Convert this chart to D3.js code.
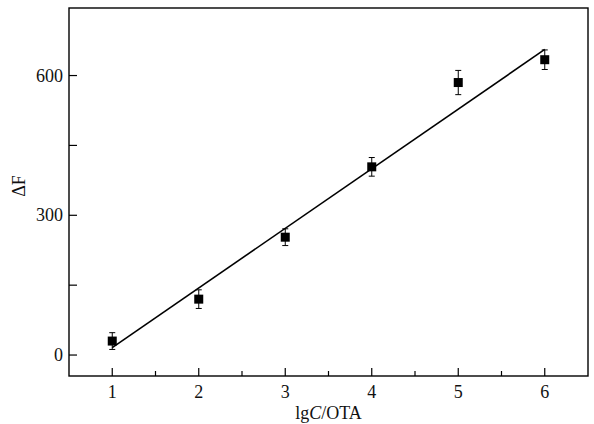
<!DOCTYPE html>
<html>
<head>
<meta charset="utf-8">
<script src="https://cdn.jsdelivr.net/npm/d3@7"></script>
<style>
  body { margin: 0; background: #fff; }
  text { font-family: "Liberation Serif", "Times New Roman", serif; fill: #111; }
</style>
</head>
<body>
<div id="chart"></div>
<script>
// Data
var concentrations = [1, 2, 3, 4, 5, 6];
var deltaF         = [30, 120, 253, 404, 585, 634];
var errors         = [18, 20, 18, 20, 26, 21];
// Linear fit
var fitSlope     = 128;
var fitIntercept = -112;
// Ticks
var xTicks      = [1, 2, 3, 4, 5, 6];
var xMinorTicks = [1.5, 2.5, 3.5, 4.5, 5.5];
var yTicks      = [0, 300, 600];
var yMinorTicks = [150, 450];

var width = 594, height = 424;
var margin = { top: 8, right: 6, bottom: 48, left: 69 };
var w = width - margin.left - margin.right;
var h = height - margin.top - margin.bottom;

var svg = d3.select("#chart").append("svg")
    .attr("width", width).attr("height", height);
var g = svg.append("g").attr("transform", "translate(" + margin.left + "," + margin.top + ")");

// Scales
var x = d3.scaleLinear().domain([0.5, 6.5]).range([0, w]);
var y = d3.scaleLinear().domain([-45, 745]).range([h, 0]);

// Frame
g.append("rect")
  .attr("width", w).attr("height", h)
  .attr("fill", "none").attr("stroke", "#000").attr("stroke-width", 1.4);

// x ticks (inward)
g.append("g").selectAll("line.major").data(xTicks).enter().append("line")
  .attr("x1", function(d){ return x(d); }).attr("x2", function(d){ return x(d); })
  .attr("y1", h).attr("y2", h - 8)
  .attr("stroke", "#000").attr("stroke-width", 1.2);
g.append("g").selectAll("line").data(xMinorTicks).enter().append("line")
  .attr("x1", function(d){ return x(d); }).attr("x2", function(d){ return x(d); })
  .attr("y1", h).attr("y2", h - 5)
  .attr("stroke", "#000").attr("stroke-width", 1.2);
g.append("g").selectAll("text").data(xTicks).enter().append("text")
  .attr("x", function(d){ return x(d); })
  .attr("y", h + 22)
  .attr("text-anchor", "middle")
  .attr("font-size", 18)
  .text(function(d){ return d; });

// y ticks (inward)
g.append("g").selectAll("line").data(yTicks).enter().append("line")
  .attr("x1", 0).attr("x2", 8)
  .attr("y1", function(d){ return y(d); }).attr("y2", function(d){ return y(d); })
  .attr("stroke", "#000").attr("stroke-width", 1.2);
g.append("g").selectAll("line").data(yMinorTicks).enter().append("line")
  .attr("x1", 0).attr("x2", 8)
  .attr("y1", function(d){ return y(d); }).attr("y2", function(d){ return y(d); })
  .attr("stroke", "#000").attr("stroke-width", 1.2);
g.append("g").selectAll("text").data(yTicks).enter().append("text")
  .attr("x", -6)
  .attr("y", function(d){ return y(d) + 6; })
  .attr("text-anchor", "end")
  .attr("font-size", 18)
  .text(function(d){ return d; });

// Fit line
var fit = [concentrations[0], concentrations[concentrations.length - 1]];
g.append("line")
  .attr("x1", x(fit[0])).attr("y1", y(fitSlope * fit[0] + fitIntercept))
  .attr("x2", x(fit[1])).attr("y2", y(fitSlope * fit[1] + fitIntercept))
  .attr("stroke", "#000").attr("stroke-width", 1.6);

// Error bars
var points = concentrations.map(function(c, i){ return { c: c, v: deltaF[i], e: errors[i] }; });
var eb = g.append("g").selectAll("g").data(points).enter().append("g")
  .attr("stroke", "#000").attr("stroke-width", 1);
eb.append("line")
  .attr("x1", function(d){ return x(d.c); }).attr("x2", function(d){ return x(d.c); })
  .attr("y1", function(d){ return y(d.v + d.e); }).attr("y2", function(d){ return y(d.v - d.e); });
eb.append("line")
  .attr("x1", function(d){ return x(d.c) - 3; }).attr("x2", function(d){ return x(d.c) + 3; })
  .attr("y1", function(d){ return y(d.v + d.e); }).attr("y2", function(d){ return y(d.v + d.e); });
eb.append("line")
  .attr("x1", function(d){ return x(d.c) - 3; }).attr("x2", function(d){ return x(d.c) + 3; })
  .attr("y1", function(d){ return y(d.v - d.e); }).attr("y2", function(d){ return y(d.v - d.e); });

// Square markers
g.append("g").selectAll("rect").data(points).enter().append("rect")
  .attr("x", function(d){ return x(d.c) - 4.5; })
  .attr("y", function(d){ return y(d.v) - 4.5; })
  .attr("width", 9).attr("height", 9)
  .attr("fill", "#000");

// Axis titles
var xl = svg.append("text")
  .attr("x", margin.left + w / 2)
  .attr("y", 419)
  .attr("text-anchor", "middle")
  .attr("font-size", 18);
xl.append("tspan").text("lg");
xl.append("tspan").attr("font-style", "italic").text("C");
xl.append("tspan").text("/OTA");

svg.append("text")
  .attr("transform", "translate(25,186) rotate(-90)")
  .attr("text-anchor", "middle")
  .attr("font-size", 18)
  .text("\u0394F");
</script>
</body>
</html>
